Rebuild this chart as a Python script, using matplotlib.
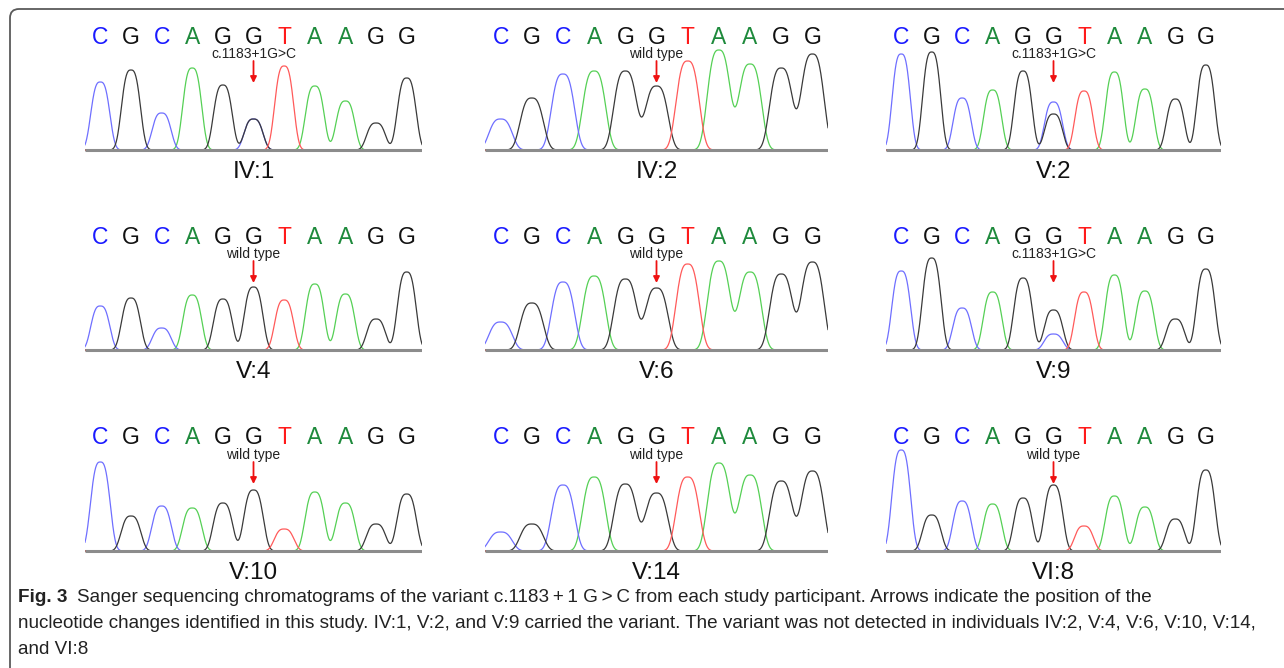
import numpy as np
import matplotlib
matplotlib.use("Agg")
import matplotlib.pyplot as plt
from matplotlib.patches import FancyBboxPatch

W, H = 1284, 668

sequence = list("CGCAGGTAAGG")
samples = ["IV:1", "IV:2", "V:2", "V:4", "V:6", "V:9", "V:10", "V:14", "VI:8"]
notes = ["c.1183+1G>C", "wild type", "c.1183+1G>C",
         "wild type", "wild type", "c.1183+1G>C",
         "wild type", "wild type", "wild type"]

# peak height of the called base at each of the 11 positions
peak_heights = [
    [68, 80, 37, 82, 65, 31, 84, 64, 49, 27, 72],    # IV:1
    [31, 52, 76, 79, 79, 64, 89, 100, 86, 82, 96],   # IV:2
    [96, 98, 52, 60, 79, 36, 59, 78, 61, 51, 85],    # V:2
    [44, 52, 22, 55, 51, 63, 50, 66, 56, 31, 78],    # V:4
    [28, 47, 68, 74, 71, 62, 86, 89, 78, 76, 88],    # V:6
    [79, 92, 42, 58, 72, 40, 58, 75, 59, 31, 81],    # V:9
    [89, 35, 45, 43, 48, 61, 22, 59, 48, 27, 57],    # V:10
    [19, 27, 66, 74, 67, 58, 74, 88, 76, 70, 80],    # V:14
    [101, 36, 50, 47, 53, 66, 25, 55, 44, 32, 81],   # VI:8
]
# second (C) peak under the G at the splice site
variant_c = [31, 0, 48, 0, 0, 16, 0, 0, 0]
peak_width = [0.29, 0.35, 0.28, 0.29, 0.35, 0.29, 0.30, 0.35, 0.29]
variant_pos = 5

base_color = {"C": "#1a1aff", "G": "#111111", "A": "#1e8a3c", "T": "#ff1a1a"}
trace_color = {"C": "#6f6fff", "G": "#3a3a3a", "A": "#55d055", "T": "#ff5a5a"}

col_x = [(85, 422), (485, 828), (886, 1221)]
row_base = [150, 350, 551]

fig = plt.figure(figsize=(W / 100, H / 100), dpi=100)
plt.rcParams["font.family"] = ["Liberation Sans", "DejaVu Sans"]

# frame with rounded corner
frame = FancyBboxPatch((0.10, -0.5), 13.5, 7.09, boxstyle="round,pad=0,rounding_size=0.09",
                       transform=fig.dpi_scale_trans, fill=False,
                       edgecolor="#5a5a5a", lw=1.3)
fig.patches.append(frame)


def peak(x, centre, height, s):
    # flat-topped peak, closer to a real trace than a plain gaussian
    return height * np.exp(-0.5 * np.abs((x - centre) / s) ** 3)


xs = np.linspace(0, 11, 1200)
for k, name in enumerate(samples):
    r, c = divmod(k, 3)
    x0, x1 = col_x[c]
    base = row_base[r]
    ax = fig.add_axes([x0 / W, 1 - (base + 3) / H, (x1 - x0) / W, 123 / H])
    ax.set_xlim(0, 11)
    ax.set_ylim(-3, 120)
    ax.axis("off")

    s = peak_width[k]
    for nuc in "ACGT":
        trace = np.zeros_like(xs)
        for i, b in enumerate(sequence):
            if b == nuc:
                trace += peak(xs, i + 0.5, peak_heights[k][i], s)
        if nuc == "C" and variant_c[k] > 0:
            trace += peak(xs, variant_pos + 0.5, variant_c[k], s)
        ax.plot(xs, trace, color=trace_color[nuc], lw=0.9, zorder=2)
    ax.plot([0, 11], [0, 0], color="#8c8c8c", lw=2.2, zorder=3, solid_capstyle="butt")

    for i, b in enumerate(sequence):
        ax.text(i + 0.5, 113, b, color=base_color[b], fontsize=16.5,
                ha="center", va="center")
    ax.text(variant_pos + 0.5, 96, notes[k], fontsize=10, color="#222222",
            ha="center", va="center")
    ax.annotate("", xy=(variant_pos + 0.5, 67), xytext=(variant_pos + 0.5, 89),
                arrowprops=dict(arrowstyle="-|>", color="#ee1111", lw=1.3,
                                mutation_scale=9, shrinkA=0, shrinkB=0))
    ax.text(5.5, -22, name, fontsize=17.5, color="#111111", ha="center",
            va="center", clip_on=False)

# caption
cap_font = ["Liberation Sans Narrow", "Liberation Sans"]
line1 = ("Sanger sequencing chromatograms of the variant c.1183\u2009+\u20091 G\u2009>\u2009C "
         "from each study participant. Arrows indicate the position of the")
line2 = ("nucleotide changes identified in this study. IV:1, V:2, and V:9 carried the variant. "
         "The variant was not detected in individuals IV:2, V:4, V:6, V:10, V:14,")
line3 = "and VI:8"

renderer = fig.canvas.get_renderer()
fs = 13
probe = fig.text(18 / W, 0.5, line2, fontsize=fs, family=cap_font)
wpx = probe.get_window_extent(renderer).width
probe.remove()
fs = fs * (1262 - 18) / wpx

t_fig = fig.text(18 / W, 1 - 598 / H, "Fig. 3", fontsize=fs, family=cap_font,
                 weight="bold", va="center", color="#222222")
fig_w = t_fig.get_window_extent(renderer).width
fig.text((18 + fig_w + 10) / W, 1 - 598 / H, line1, fontsize=fs, family=cap_font,
         va="center", color="#222222")
fig.text(18 / W, 1 - 624 / H, line2, fontsize=fs, family=cap_font,
         va="center", color="#222222")
fig.text(18 / W, 1 - 650 / H, line3, fontsize=fs, family=cap_font,
         va="center", color="#222222")

fig.savefig("out.png", dpi=100)
